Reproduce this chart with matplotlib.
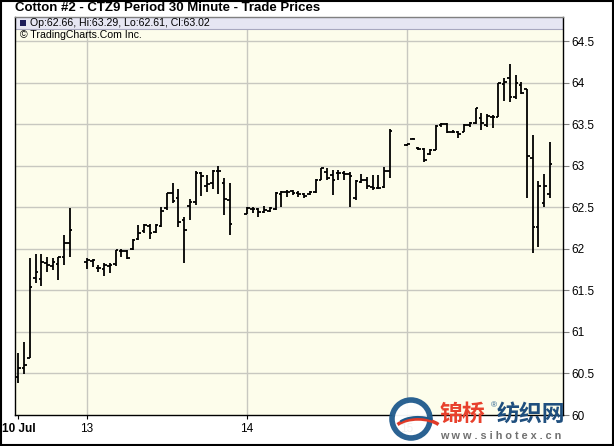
import numpy as np
import matplotlib
matplotlib.use("Agg")
import matplotlib.pyplot as plt
from matplotlib.patches import Rectangle, Circle, Arc

plt.rcParams['font.family'] = ['Liberation Sans', 'DejaVu Sans']

# session start slot (30-minute slots) and OHLC per session
session_start = [-12, 0, 28, 56]
tick_slots = [-12, 0, 28, 56]
tick_labels = ['10 Jul', '13', '14', '15']

# 10 Jul
o1 = [60.46, 60.57, 60.69, 61.65, 61.64, 61.83, 61.80, 61.82, 61.90, 62.07]
h1 = [60.75, 60.88, 61.89, 61.94, 61.94, 61.90, 61.89, 61.90, 62.17, 62.49]
l1 = [60.39, 60.49, 60.69, 61.59, 61.55, 61.72, 61.75, 61.63, 61.81, 61.90]
c1 = [60.57, 60.60, 61.54, 61.72, 61.84, 61.81, 61.84, 61.90, 62.07, 62.23]

# 13
o2 = [61.84, 61.86, 61.77, 61.76, 61.80, 61.82, 61.98, 61.98, 62.00, 62.12, 62.22, 62.28, 62.20,
      62.28, 62.49, 62.67, 62.61, 62.35, 62.52, 62.57, 62.91, 62.76, 62.80, 62.94, 62.80, 62.59]
h2 = [61.89, 61.88, 61.81, 61.83, 61.83, 61.99, 62.00, 61.99, 62.12, 62.29, 62.30, 62.30, 62.30,
      62.51, 62.67, 62.80, 62.72, 62.39, 62.60, 62.94, 62.93, 62.89, 62.95, 63.00, 62.86, 62.80]
l2 = [61.76, 61.78, 61.72, 61.67, 61.71, 61.80, 61.90, 61.88, 61.99, 62.11, 62.19, 62.12, 62.19,
      62.27, 62.47, 62.55, 62.27, 61.83, 62.35, 62.53, 62.64, 62.69, 62.72, 62.66, 62.41, 62.17]
c2 = [61.87, 61.87, 61.77, 61.81, 61.81, 61.99, 61.97, 61.89, 62.11, 62.19, 62.29, 62.19, 62.29,
      62.46, 62.67, 62.58, 62.32, 62.23, 62.57, 62.92, 62.88, 62.78, 62.94, 62.94, 62.60, 62.30]

# 14
o3 = [62.42, 62.48, 62.48, 62.45, 62.46, 62.48, 62.66, 62.69, 62.70, 62.68, 62.66, 62.66, 62.69,
      62.83, 62.93, 62.89, 62.91, 62.91, 62.90, 62.61, 62.81, 62.83, 62.75, 62.74, 62.75, 62.94]
h3 = [62.51, 62.51, 62.49, 62.52, 62.51, 62.69, 62.70, 62.71, 62.71, 62.70, 62.67, 62.70, 62.84,
      62.98, 62.98, 62.95, 62.95, 62.94, 62.93, 62.83, 62.90, 62.87, 62.89, 62.89, 62.99, 63.45]
l3 = [62.42, 62.43, 62.39, 62.43, 62.44, 62.47, 62.51, 62.63, 62.65, 62.63, 62.62, 62.65, 62.67,
      62.83, 62.83, 62.65, 62.83, 62.83, 62.51, 62.59, 62.80, 62.72, 62.71, 62.72, 62.73, 62.86]
c3 = [62.49, 62.48, 62.45, 62.47, 62.49, 62.67, 62.69, 62.69, 62.68, 62.66, 62.64, 62.69, 62.83,
      62.98, 62.86, 62.83, 62.91, 62.90, 62.88, 62.82, 62.83, 62.76, 62.74, 62.74, 62.94, 63.42]

# 15
o4 = [63.25, 63.33, 63.22, 63.21, 63.14, 63.19, 63.49, 63.50, 63.41, 63.41, 63.41, 63.49, 63.52,
      63.58, 63.49, 63.59, 63.59, 63.99, 64.06, 63.83, 63.98, 63.93, 63.10, 62.27, 62.55, 62.66]
h4 = [63.27, 63.34, 63.23, 63.22, 63.20, 63.49, 63.52, 63.52, 63.43, 63.42, 63.51, 63.53, 63.70,
      63.64, 63.63, 63.61, 64.00, 64.06, 64.23, 64.10, 64.01, 63.93, 63.37, 62.82, 62.90, 63.29]
l4 = [63.24, 63.32, 63.19, 63.05, 63.13, 63.19, 63.47, 63.40, 63.40, 63.34, 63.41, 63.47, 63.51,
      63.43, 63.47, 63.46, 63.59, 63.78, 63.77, 63.81, 63.87, 62.61, 61.95, 62.02, 62.51, 62.61]
c4 = [63.26, 63.33, 63.21, 63.07, 63.19, 63.48, 63.51, 63.41, 63.41, 63.39, 63.49, 63.52, 63.70,
      63.52, 63.60, 63.59, 64.00, 64.01, 63.83, 64.00, 63.88, 63.12, 62.27, 62.76, 62.76, 63.02]

sessions = [(o1, h1, l1, c1), (o2, h2, l2, c2), (o3, h3, l3, c3), (o4, h4, l4, c4)]

W, H = 614, 446
fig = plt.figure(figsize=(W / 100, H / 100), dpi=100)
fig.patch.set_facecolor('white')

ax = fig.add_axes([15 / W, (H - 415) / H, 548 / W, 398 / H])
ax.set_facecolor('#fdfdeb')
ax.set_xlim(-12.6, 83.3)
ax.set_ylim(60, 64.795)

# grid
ax.set_yticks(np.arange(60, 64.51, 0.5))
ax.set_yticklabels(['60', '60.5', '61', '61.5', '62', '62.5', '63', '63.5', '64', '64.5'])
for y in np.arange(60.5, 64.51, 0.5):
    ax.axhline(y, color='#c8c8c0', lw=1, zorder=1)
for x in tick_slots[1:]:
    ax.axvline(x, color='#c8c8c0', lw=1, zorder=1)

# OHLC bars
for start, (o, h, l, c) in zip(session_start, sessions):
    xs = start + np.arange(len(o))
    ax.vlines(xs, l, h, color='black', lw=1.3, zorder=3)
    ax.hlines(o, xs - 0.45, xs, color='black', lw=1.3, zorder=3)
    ax.hlines(c, xs, xs + 0.45, color='black', lw=1.3, zorder=3)

# header band inside the plot
ax.add_patch(Rectangle((0, 1 - 12 / 398), 1, 12 / 398, transform=ax.transAxes,
                       facecolor='#e6e6f3', edgecolor='#a8a8c0', lw=0.8, zorder=2))

ax.yaxis.tick_right()
ax.tick_params(axis='y', direction='out', length=4, color='#808080', labelsize=8.5, pad=2)
ax.set_xticks(tick_slots)
ax.set_xticklabels(tick_labels)
ax.tick_params(axis='x', direction='out', length=3, color='black', labelsize=8.5, pad=3)
ax.get_xticklabels()[0].set_fontweight('bold')
for s in ax.spines.values():
    s.set_color('black')
    s.set_linewidth(1)
ax.spines['top'].set_color('#808080')

# overlay in pixel coordinates for header text, border and watermark
ov = fig.add_axes([0, 0, 1, 1], zorder=5)
ov.set_xlim(0, W)
ov.set_ylim(H, 0)
ov.axis('off')
ov.patch.set_alpha(0)
ov.add_patch(Rectangle((0.5, 0.5), W - 1.5, H - 1.5, fill=False, edgecolor='black', lw=1.5))

ov.text(15, 8, 'Cotton #2 - CTZ9 Period 30 Minute - Trade Prices', fontsize=9.5,
        fontweight='bold', va='center', ha='left')
ov.add_patch(Rectangle((20, 19.5), 6, 6.5, facecolor='#1c1c5a', edgecolor='none'))
ov.text(30, 23, 'Op:62.66, Hi:63.29, Lo:62.61, Cl:63.02', fontsize=7.6, va='center', ha='left')
ov.text(20, 35, '\u00a9 TradingCharts.Com Inc.', fontsize=7.6, va='center', ha='left')

# watermark
ov.add_patch(Circle((411, 419), 19, facecolor='white', edgecolor='#1f5a8c', lw=4, alpha=0.95))
ov.add_patch(Arc((418, 432), 50, 26, theta1=200, theta2=340, color='#e03a28', lw=2.5))
ov.add_patch(Arc((418, 428), 44, 22, theta1=200, theta2=330, color='#1f5a8c', lw=1.5))
ov.text(440, 414, '锦桥', fontsize=16.5, fontweight='bold', color='#e8412c', va='center', ha='left',
        family=['Noto Sans CJK SC', 'DejaVu Sans'])
ov.text(491, 406, '\u00ae', fontsize=6, color='#1f5a8c', va='center', ha='left')
ov.text(497, 414, '纺织网', fontsize=16.5, fontweight='bold', color='#1f4f7e', va='center', ha='left',
        family=['Noto Sans CJK SC', 'DejaVu Sans'])
ov.text(440, 436, 'w w w . s i h o t e x . c n', fontsize=7.8, fontweight='bold', color='#707070',
        va='center', ha='left')

fig.savefig('out.png', dpi=100)
